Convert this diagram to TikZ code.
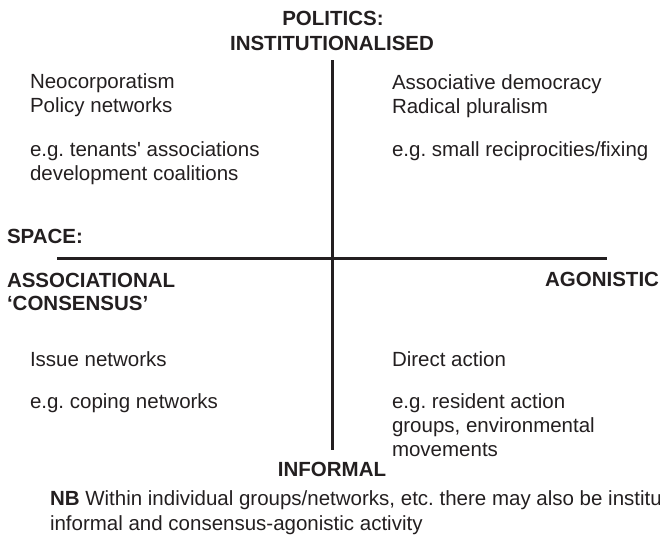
\documentclass[tikz,border=0pt]{standalone}
\usepackage{fontspec}
\setmainfont{Liberation Sans}
\frenchspacing
\begin{document}
\definecolor{ink}{HTML}{231F20}
\begin{tikzpicture}[x=1pt,y=-1pt,
  every node/.style={inner sep=0pt,outer sep=0pt,text=ink},
  body/.style={font=\fontsize{20.5}{24}\selectfont,anchor=base west},
  head/.style={font=\fontsize{20.5}{25}\selectfont\bfseries},
  axis/.style={draw=ink,line width=3pt}]
\useasboundingbox (0,0) rectangle (660,539);

% axes
\coordinate (top) at (332.5,60);
\coordinate (bottom) at (332.5,450);
\coordinate (left) at (57,258);
\coordinate (right) at (607,258);
\draw[axis] (top) -- (bottom);
\draw[axis] (left) -- (right);

% axis headings
\node[head,anchor=base] (pol) at (333,25) {POLITICS:};
\node[head,anchor=base] (inst) at (332,50) {INSTITUTIONALISED};
\node[head,anchor=base] (infl) at (332,476) {INFORMAL};
\node[head,anchor=base west] (space) at (7,243) {SPACE:};
\node[head,anchor=base west] (assoc) at (7,287) {ASSOCIATIONAL};
\node[head,anchor=base west] (cons) at (7,310) {‘CONSENSUS’};
\node[head,anchor=base east] (agon) at (659,286) {AGONISTIC};

% upper left quadrant
\node[body] (ul1) at (30,88) {Neocorporatism};
\node[body] (ul2) at (30,112) {Policy networks};
\node[body] (ul3) at (30,156) {e.g. tenants\textquotesingle\ associations};
\node[body] (ul4) at (30,180) {development coalitions};

% upper right quadrant
\node[body] (ur1) at (392,89) {Associative democracy};
\node[body] (ur2) at (392,113) {Radical pluralism};
\node[body] (ur3) at (392,156) {e.g. small reciprocities/fixing};

% lower left quadrant
\node[body] (ll1) at (30,366) {Issue networks};
\node[body] (ll2) at (30,408) {e.g. coping networks};

% lower right quadrant
\node[body] (lr1) at (392,366) {Direct action};
\node[body] (lr2) at (392,408) {e.g. resident action};
\node[body] (lr3) at (392,432) {groups, environmental};
\node[body] (lr4) at (392,456) {movements};

% note
\node[body] (nb1) at (50,505) {\textbf{NB} Within individual groups/networks, etc. there may also be institu};
\node[body] (nb2) at (50,530) {informal and consensus-agonistic activity};
\end{tikzpicture}
\end{document}
